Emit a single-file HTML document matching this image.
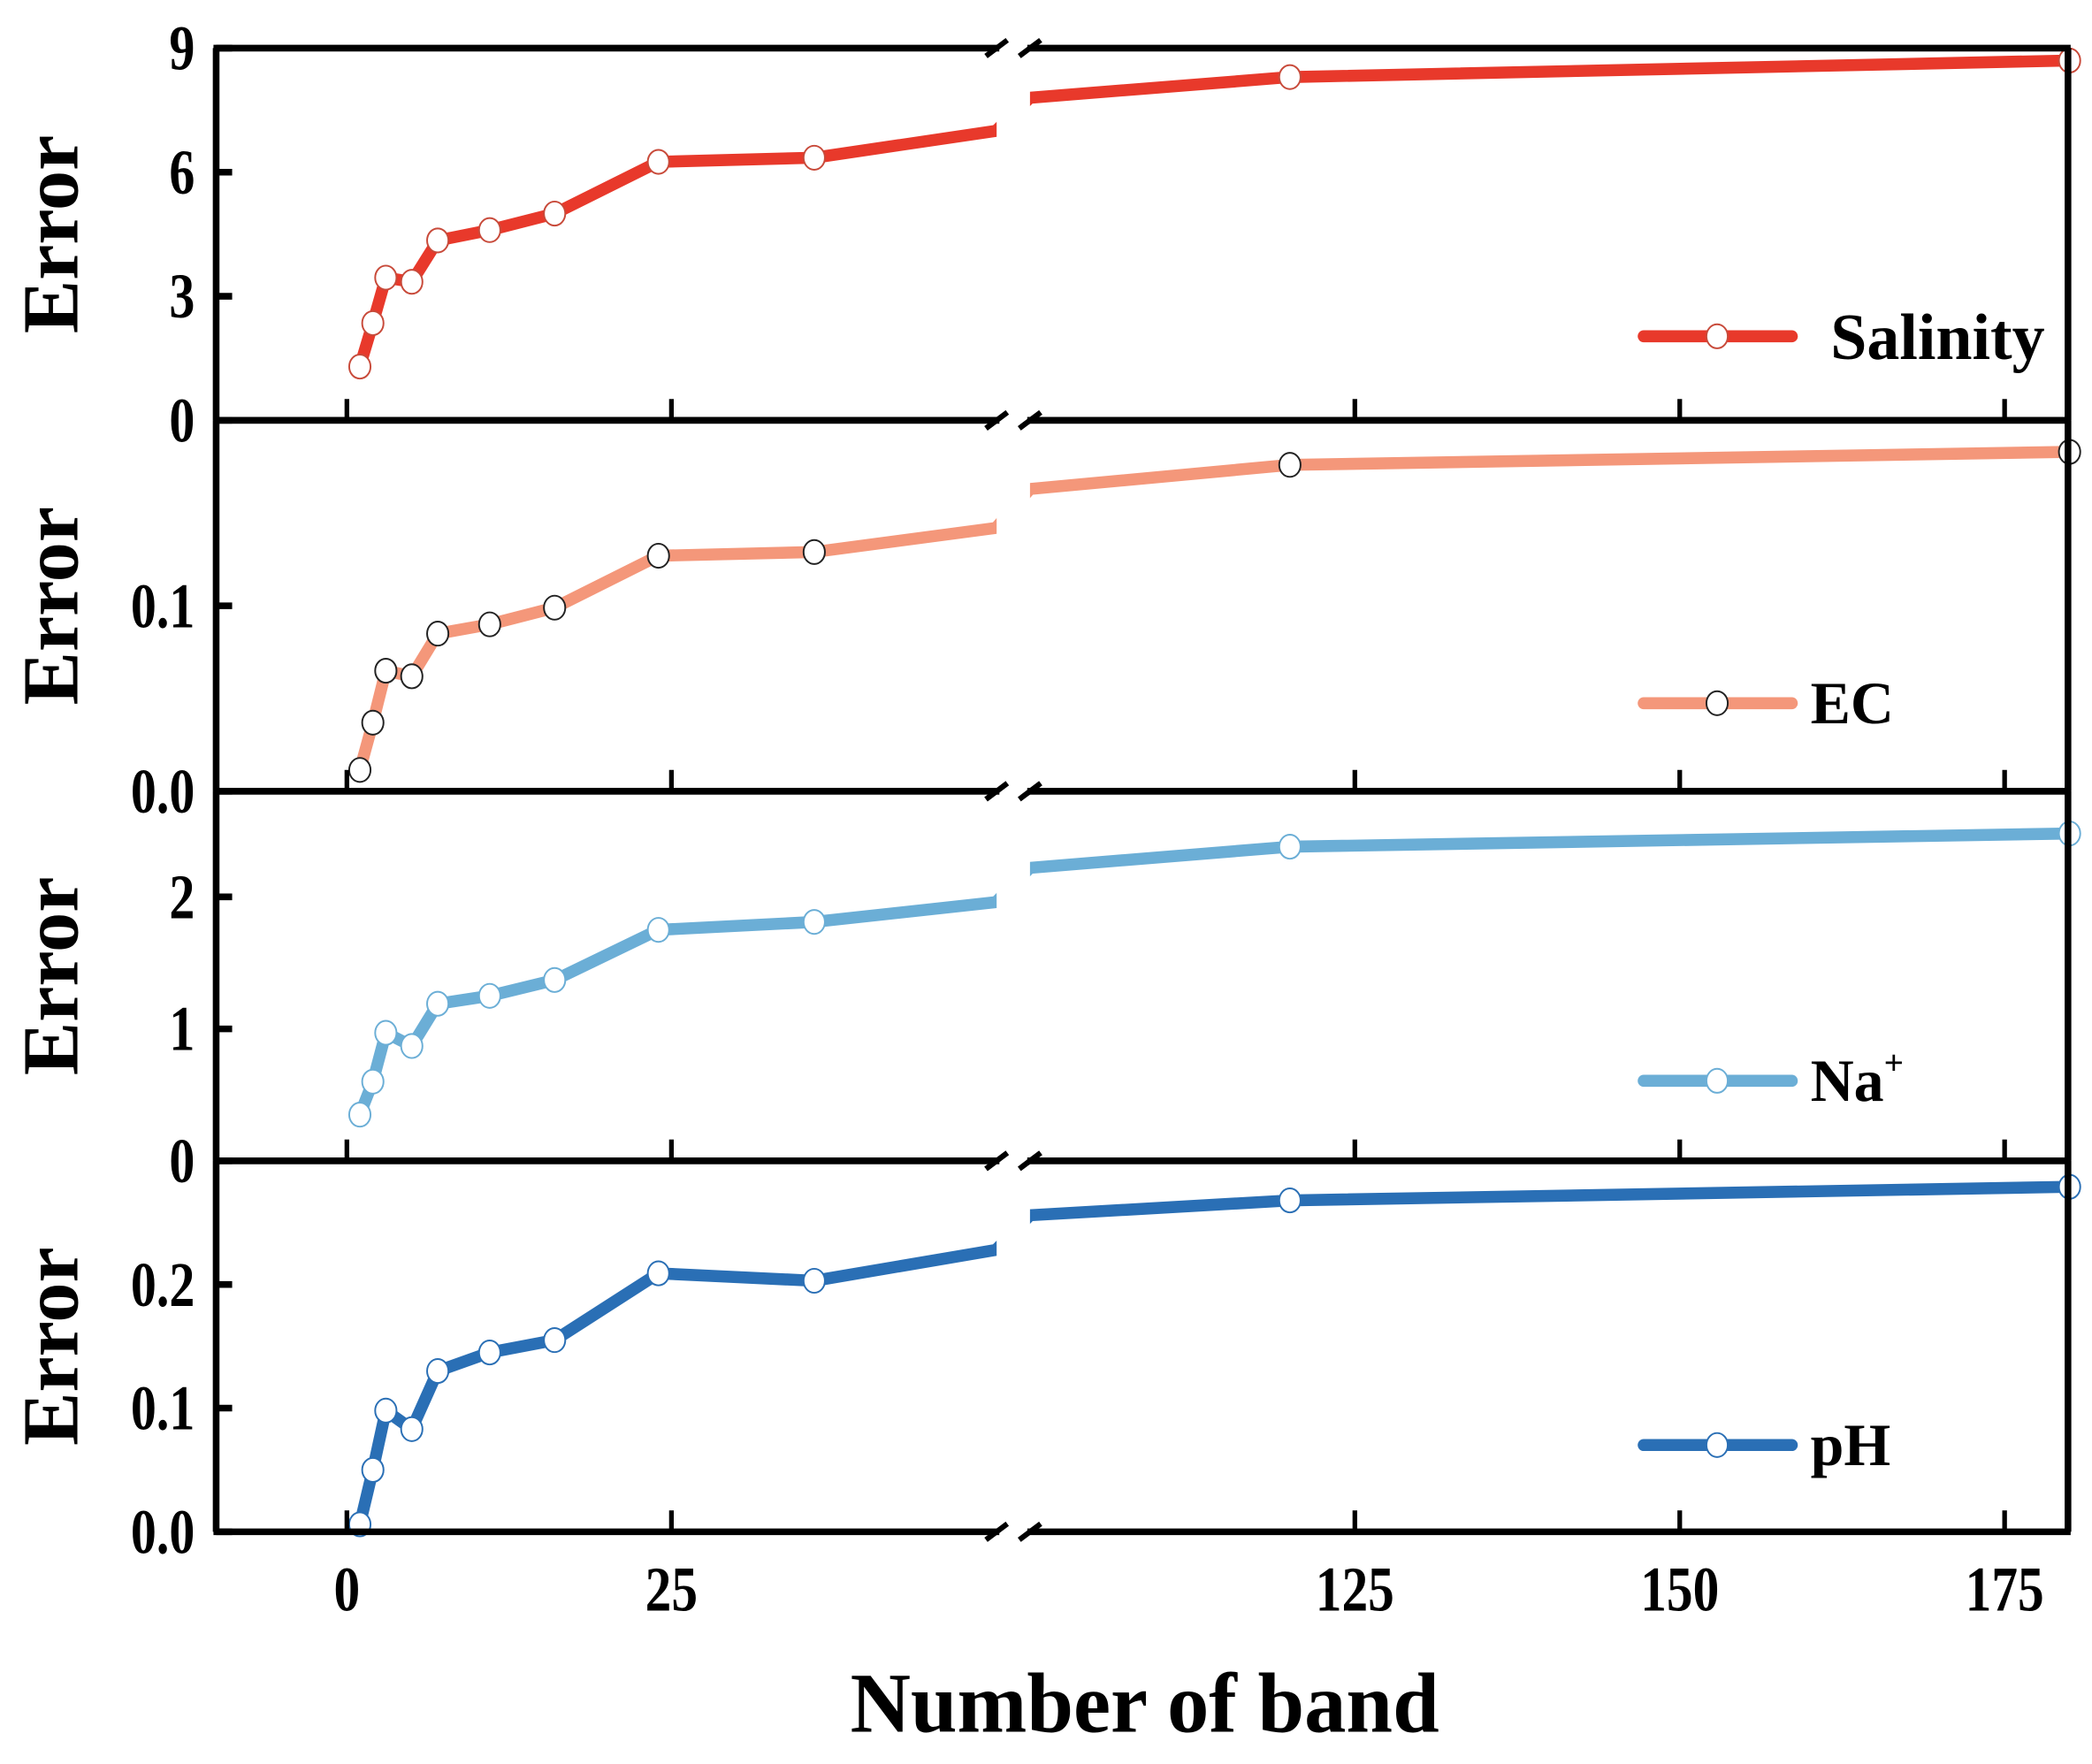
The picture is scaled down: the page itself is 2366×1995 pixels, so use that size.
<!DOCTYPE html>
<html><head><meta charset="utf-8">
<style>
html,body{margin:0;padding:0;background:#fff;}
svg{display:block;}
text{font-family:"Liberation Serif","Times New Roman",serif;font-weight:bold;fill:#000;}
</style></head>
<body>
<svg id="chart" width="2366" height="1995" viewBox="0 0 1568 1322" xmlns="http://www.w3.org/2000/svg">
<defs>
<clipPath id="clipL"><rect x="162" y="0" width="585" height="1322"/></clipPath>
<clipPath id="clipR"><rect x="772" y="0" width="778" height="1322"/></clipPath>
</defs>
<g id="root"></g>
<text x="858" y="1298" text-anchor="middle" font-size="64" transform="translate(858 0) scale(0.98 1) translate(-858 0)">Number of band</text>
</svg>
<script>
// ---- data ----
const bands = [1, 2, 3, 5, 7, 11, 16, 24, 36, 50, 100, 120, 180];
const hasMarker = [1, 1, 1, 1, 1, 1, 1, 1, 1, 0, 0, 1, 1];
const salinity = [1.3, 2.35, 3.45, 3.35, 4.35, 4.6, 5.0, 6.25, 6.35, 7.0, 7.8, 8.3, 8.7];
const ecVals = [0.0115, 0.037, 0.065, 0.062, 0.085, 0.09, 0.099, 0.127, 0.129, 0.142, 0.163, 0.176, 0.183];
const naVals = [0.35, 0.6, 0.97, 0.87, 1.19, 1.25, 1.37, 1.75, 1.81, 1.96, 2.22, 2.38, 2.48];
const phVals = [0.006, 0.05, 0.098, 0.083, 0.13, 0.145, 0.155, 0.209, 0.203, 0.228, 0.256, 0.268, 0.279];
const xTicks = [0, 25, 125, 150, 175];
const salTicks = ["0", "3", "6", "9"];
const ecTicks = ["0.0", "0.1"];
const naTicks = ["0", "1", "2"];
const phTicks = ["0.0", "0.1", "0.2"];

const NS = "http://www.w3.org/2000/svg";
const root = document.getElementById('root');
const L = 162, R = 1550, BRK1 = 747, BRK2 = 772;
function xScale(v) {
  if (v <= 50) return 260 + v * 9.73;
  return 772 + (v - 100) * 9.74;
}
function mk(tag, attrs, parent) {
  const e = document.createElementNS(NS, tag);
  for (const k in attrs) e.setAttribute(k, attrs[k]);
  (parent || root).appendChild(e);
  return e;
}
const panels = [
  {name: 'salinity', label: 'Salinity', top: 36, bot: 315, max: 9, vals: salinity, ticks: salTicks, color: '#e8392b', edge: '#c84a3a', legY: 252},
  {name: 'ec', label: 'EC', top: 315, bot: 593, max: 0.2, vals: ecVals, ticks: ecTicks, color: '#f4977a', edge: '#222', legY: 527},
  {name: 'na', label: 'Na', top: 593, bot: 870, max: 2.8, vals: naVals, ticks: naTicks, color: '#6baed6', edge: '#6baed6', legY: 810},
  {name: 'ph', label: 'pH', top: 870, bot: 1148, max: 0.3, vals: phVals, ticks: phTicks, color: '#2a6fb5', edge: '#2a6fb5', legY: 1083}
];
panels.forEach(p => {
  const g = mk('g', {});
  
  
  const y = v => p.bot - v / p.max * (p.bot - p.top);
  ['clipL', 'clipR'].forEach(c => {
    const pts = bands.map((b, i) => xScale(b) + ',' + y(p.vals[i])).join(' ');
    const pl = mk('polyline', {points: pts, fill: 'none', stroke: p.color, 'stroke-width': 9, 'stroke-linejoin': 'round', 'clip-path': 'url(#' + c + ')'}, g);
    
    
  });
  mk('rect', {x: 748, y: p.top + 3, width: 23, height: p.bot - p.top - 6, fill: '#fff'}, g);
  const mg = mk('g', {}, g);
  bands.forEach((b, i) => {
    if (!hasMarker[i]) return;
    const c = mk('ellipse', {cx: xScale(b), cy: y(p.vals[i]), rx: 8, ry: 9, fill: '#fff', stroke: p.edge, 'stroke-width': 1.3}, mg);
    
    
  });
  mk('line', {x1: L, y1: p.top, x2: L, y2: p.bot, stroke: '#000', 'stroke-width': 5}, g);
  mk('line', {x1: R, y1: p.top, x2: R, y2: p.bot, stroke: '#000', 'stroke-width': 5}, g);
  [p.top, p.bot].forEach(yy => {
    mk('line', {x1: L - 2, y1: yy, x2: BRK1 + 2, y2: yy, stroke: '#000', 'stroke-width': 5}, g);
    mk('line', {x1: BRK2 - 2, y1: yy, x2: R + 2, y2: yy, stroke: '#000', 'stroke-width': 5}, g);
    mk('line', {x1: BRK1 - 8, y1: yy + 6, x2: BRK1 + 8, y2: yy - 6, stroke: '#000', 'stroke-width': 4}, g);
    mk('line', {x1: BRK2 - 8, y1: yy + 6, x2: BRK2 + 8, y2: yy - 6, stroke: '#000', 'stroke-width': 4}, g);
  });
  xTicks.forEach(t => {
    mk('line', {x1: xScale(t), y1: p.bot, x2: xScale(t), y2: p.bot - 16, stroke: '#000', 'stroke-width': 3.5}, g);
  });
  p.ticks.forEach(t => {
    const v = parseFloat(t), yy = y(v);
    mk('line', {x1: L, y1: yy, x2: L + 12, y2: yy, stroke: '#000', 'stroke-width': 5}, g);
    const tx = mk('text', {x: 146, y: yy + 16, 'font-size': 48, 'text-anchor': 'end', transform: 'translate(146 0) scale(0.8 1) translate(-146 0)'}, g);
    tx.textContent = t;
    
    
  });
  const cy = (p.top + p.bot) / 2;
  const yt = mk('text', {x: 0, y: 0, 'font-size': 60, 'text-anchor': 'middle', transform: 'translate(58 ' + cy + ') rotate(-90)'}, g);
  yt.textContent = 'Error';
  
  
  const lg = mk('g', {}, g);
  
  
  mk('line', {x1: 1232, y1: p.legY, x2: 1343, y2: p.legY, stroke: p.color, 'stroke-width': 9, 'stroke-linecap': 'round'}, lg);
  mk('ellipse', {cx: 1287, cy: p.legY, rx: 8, ry: 9, fill: '#fff', stroke: p.edge, 'stroke-width': 1.3}, lg);
  const lt = mk('text', {x: 1357, y: p.legY + 15, 'font-size': 45}, lg);
  lt.textContent = p.label;
  if (p.name === 'salinity') { lt.setAttribute('x', 1372); lt.setAttribute('font-size', 49); lt.setAttribute('y', p.legY + 17); }
  if (p.name === 'na') {
    const sp = mk('tspan', {'font-size': 26, dy: -20}, lt);
    sp.textContent = '+';
  }
});
xTicks.forEach(t => {
  const x = xScale(t);
  const tx = mk('text', {x: x, y: 1207, 'font-size': 48, 'text-anchor': 'middle', transform: 'translate(' + x + ' 0) scale(0.82 1) translate(' + (-x) + ' 0)'});
  tx.textContent = t;
  
  
});
</script>
</body></html>
